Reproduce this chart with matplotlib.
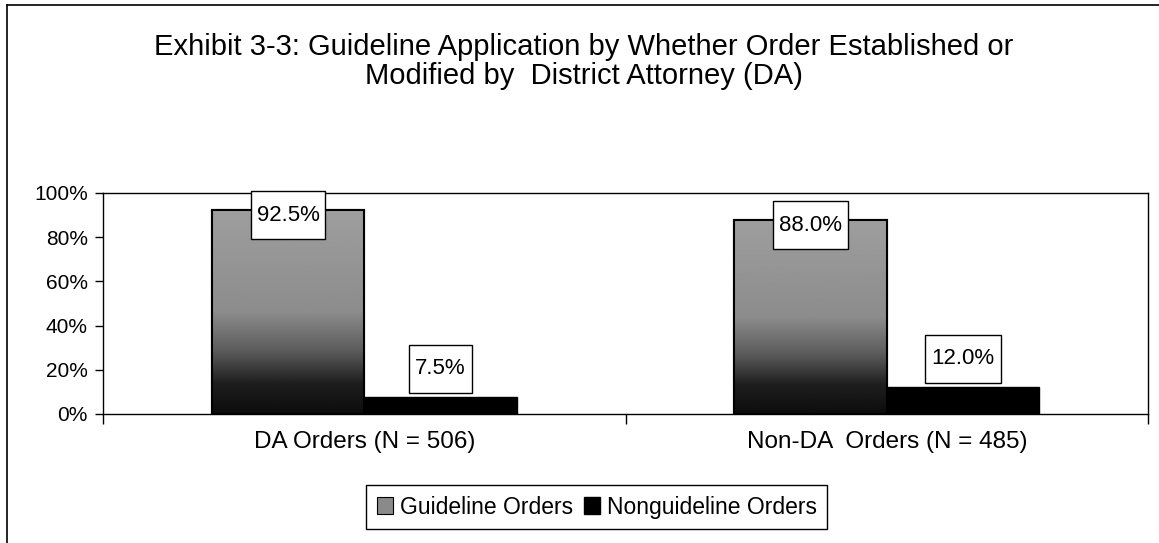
import numpy as np
import matplotlib
matplotlib.use("Agg")
import matplotlib.pyplot as plt
from matplotlib.patches import Rectangle, Patch
from matplotlib.lines import Line2D

plt.rcParams['font.family'] = ['Liberation Sans', 'DejaVu Sans']

groups = ['DA Orders (N = 506)', 'Non-DA  Orders (N = 485)']
series = ['Guideline Orders', 'Nonguideline Orders']
guideline = [0.925, 0.880]
nonguideline = [0.075, 0.120]
yticks = [0, 0.2, 0.4, 0.6, 0.8, 1.0]
title = ('Exhibit 3-3: Guideline Application by Whether Order Established or\n'
         'Modified by  District Attorney (DA)')

fig = plt.figure(figsize=(11.59, 5.43), dpi=100)
ax = fig.add_axes([0.0889, 0.2376, 0.9016, 0.4070])

x = np.arange(len(groups))
w = 0.292

bars_g = ax.bar(x - w / 2, guideline, w, color='#8a8a8a', edgecolor='black',
                linewidth=1.5, zorder=2)
bars_n = ax.bar(x + w / 2, nonguideline, w, color='black', edgecolor='black',
                linewidth=1.0, zorder=2)

# gray-to-black gradient fill for the guideline bars
stops_pos = [0.0, 0.15, 0.3, 0.5, 1.0]
stops_val = [0.05, 0.12, 0.35, 0.55, 0.62]
for b in bars_g:
    h = b.get_height()
    ramp = np.interp(np.linspace(1, 0, 256), stops_pos, stops_val).reshape(-1, 1)
    im = ax.imshow(ramp, cmap='gray', vmin=0, vmax=1, aspect='auto',
                   extent=[b.get_x(), b.get_x() + b.get_width(), 0, h],
                   zorder=2.5)
    im.set_clip_path(b)
    ax.add_patch(Rectangle((b.get_x(), 0), b.get_width(), h, fill=False,
                           edgecolor='black', linewidth=1.5, zorder=3))

ax.set_xlim(-0.5, len(groups) - 0.5)
ax.set_ylim(0, 1.0)
ax.set_yticks(yticks)
ax.set_yticklabels([f'{int(round(t * 100))}%' for t in yticks], fontsize=15)
ax.set_xticks(np.arange(len(groups) + 1) - 0.5)
ax.set_xticklabels([])
ax.set_xticks(x, minor=True)
ax.set_xticklabels(groups, minor=True, fontsize=17.5)
ax.tick_params(axis='x', which='major', length=7, width=1, direction='out')
ax.tick_params(axis='x', which='minor', length=0, pad=12)
ax.tick_params(axis='y', length=6, width=1, direction='out', pad=5)
for s in ax.spines.values():
    s.set_linewidth(1.0)
    s.set_color('black')

# data labels in white boxes
fig.canvas.draw()
renderer = fig.canvas.get_renderer()
px_x = ax.transData.transform((1, 0))[0] - ax.transData.transform((0, 0))[0]
px_y = ax.transData.transform((0, 1))[1] - ax.transData.transform((0, 0))[1]
box_h = 48 / px_y
for bars, vals in [(bars_g, guideline), (bars_n, nonguideline)]:
    for b, v in zip(bars, vals):
        cx = b.get_x() + b.get_width() / 2
        cy = v + 0.13
        if cy + box_h / 2 > 1.0:
            cy = v - 0.025
        t = ax.text(cx, cy, f'{v * 100:.1f}%', ha='center', va='center',
                    fontsize=16, zorder=6)
        tw = t.get_window_extent(renderer).width
        bw = (tw + 12) / px_x
        ax.add_patch(Rectangle((cx - bw / 2, cy - box_h / 2), bw, box_h,
                               facecolor='white', edgecolor='black',
                               linewidth=1.0, zorder=5, clip_on=False))

fig.text(0.504, 0.94, title, ha='center', va='top', fontsize=21,
         linespacing=1.05)

handles = [Patch(facecolor='#8a8a8a', edgecolor='black', linewidth=0.8),
           Patch(facecolor='black', edgecolor='black')]
fig.legend(handles, series, loc='center', bbox_to_anchor=(0.515, 0.066),
           ncol=2, fontsize=16.5, frameon=True, fancybox=False,
           edgecolor='black', handlelength=0.7, handleheight=0.8,
           handletextpad=0.3, columnspacing=0.5, borderpad=0.45,
           framealpha=1)

# outer frame (only top and left edges visible in the scan)
fig.add_artist(Line2D([0.006, 0.006], [0, 0.991], color='black', lw=1.2,
                      transform=fig.transFigure))
fig.add_artist(Line2D([0.006, 1.0], [0.991, 0.991], color='black', lw=1.2,
                      transform=fig.transFigure))

fig.savefig('out.png', dpi=100, facecolor='white')
